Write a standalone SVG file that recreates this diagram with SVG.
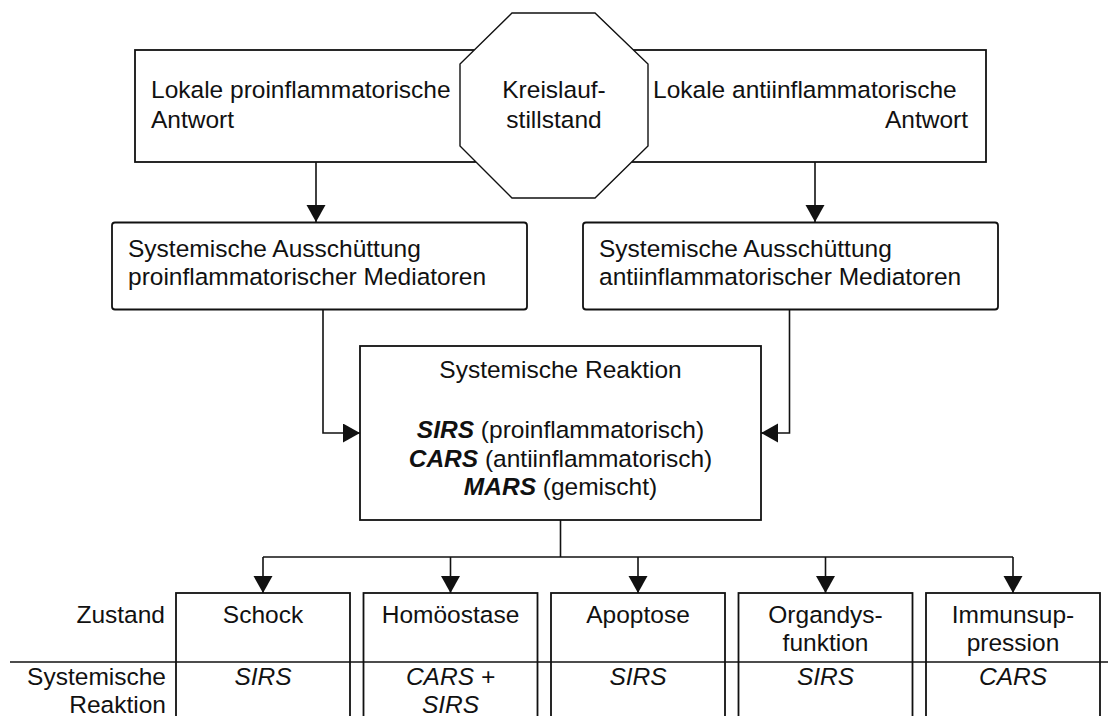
<svg xmlns="http://www.w3.org/2000/svg" width="1117" height="716" viewBox="0 0 1117 716">
<style>
text{font-family:"Liberation Sans",Arial,sans-serif;font-size:24.5px;fill:#111}
.c{text-anchor:middle}
.r{text-anchor:end}
.i{font-style:italic}
.b{font-weight:bold;font-style:italic}
.box{fill:#fff;stroke:#111;stroke-width:1.8}
.cell{fill:none;stroke:#111;stroke-width:1.8}
.oct{fill:#fff;stroke:#111;stroke-width:1.4}
.ln{fill:none;stroke:#111;stroke-width:1.6}
</style>
<defs>
<marker id="ah" markerUnits="userSpaceOnUse" markerWidth="18" markerHeight="20" refX="17" refY="9.5" orient="auto">
<path d="M0,0 L17,9.5 L0,19 Z" fill="#111"/>
</marker>
</defs>
<rect width="1117" height="716" fill="#fff"/>

<g id="local-pro">
<rect class="box" x="135" y="50" width="340" height="112"/>
<text x="151" y="98">Lokale proinflammatorische</text>
<text x="151" y="128">Antwort</text>
</g>
<g id="local-anti">
<rect class="box" x="630" y="50" width="356" height="112"/>
<text x="653" y="98">Lokale antiinflammatorische</text>
<text class="r" x="968" y="128">Antwort</text>
</g>
<g id="arrest">
<polygon class="oct" points="512,13 595,13 648,64 648,146 595,198 512,198 460,146 460,64"/>
<text class="c" x="554" y="98">Kreislauf-</text>
<text class="c" x="554" y="128">stillstand</text>
</g>

<g id="sys-pro">
<rect class="box" x="112" y="222.5" width="415" height="87" rx="3"/>
<text x="128" y="257">Systemische Ausschüttung</text>
<text x="128" y="285">proinflammatorischer Mediatoren</text>
</g>
<g id="sys-anti">
<rect class="box" x="583" y="222.5" width="415" height="87" rx="3"/>
<text x="599" y="257">Systemische Ausschüttung</text>
<text x="599" y="285">antiinflammatorischer Mediatoren</text>
</g>

<g id="reaction">
<rect class="box" x="360" y="346" width="401" height="174"/>
<text class="c" x="560.5" y="378">Systemische Reaktion</text>
<text class="c" x="560.5" y="438"><tspan class="b">SIRS</tspan> (proinflammatorisch)</text>
<text class="c" x="560.5" y="467"><tspan class="b">CARS</tspan> (antiinflammatorisch)</text>
<text class="c" x="560.5" y="495"><tspan class="b">MARS</tspan> (gemischt)</text>
</g>

<g id="schock">
<rect class="cell" x="176" y="593" width="174" height="140"/>
<text class="c" x="263" y="623">Schock</text>
<text class="c i" x="263" y="685">SIRS</text>
</g>
<g id="homoeostase">
<rect class="cell" x="363.5" y="593" width="174" height="140"/>
<text class="c" x="450.5" y="623">Homöostase</text>
<text class="c i" x="450.5" y="685">CARS +</text>
<text class="c i" x="450.5" y="713">SIRS</text>
</g>
<g id="apoptose">
<rect class="cell" x="551" y="593" width="174" height="140"/>
<text class="c" x="638" y="623">Apoptose</text>
<text class="c i" x="638" y="685">SIRS</text>
</g>
<g id="organdysfunktion">
<rect class="cell" x="738.5" y="593" width="174" height="140"/>
<text class="c" x="825.5" y="623">Organdys-</text>
<text class="c" x="825.5" y="651">funktion</text>
<text class="c i" x="825.5" y="685">SIRS</text>
</g>
<g id="immunsuppression">
<rect class="cell" x="926" y="593" width="174" height="140"/>
<text class="c" x="1013" y="623">Immunsup-</text>
<text class="c" x="1013" y="651">pression</text>
<text class="c i" x="1013" y="685">CARS</text>
</g>
<g id="table">
<line class="ln" x1="10" y1="662" x2="1108" y2="662"/>
<text class="r" x="165" y="623">Zustand</text>
<text class="r" x="166" y="685">Systemische</text>
<text class="r" x="166" y="713">Reaktion</text>
</g>

<g id="connectors">
<line class="ln" x1="316" y1="162" x2="316" y2="222" marker-end="url(#ah)"/>
<line class="ln" x1="815" y1="162" x2="815" y2="222" marker-end="url(#ah)"/>
<polyline class="ln" points="323,309.5 323,433 360,433" marker-end="url(#ah)"/>
<polyline class="ln" points="789.5,309.5 789.5,433 761,433" marker-end="url(#ah)"/>
<polyline class="ln" points="560.5,520 560.5,557"/>
<line class="ln" x1="263" y1="557" x2="1013" y2="557"/>
<line class="ln" x1="263" y1="557" x2="263" y2="593" marker-end="url(#ah)"/>
<line class="ln" x1="450.5" y1="557" x2="450.5" y2="593" marker-end="url(#ah)"/>
<line class="ln" x1="638" y1="557" x2="638" y2="593" marker-end="url(#ah)"/>
<line class="ln" x1="825.5" y1="557" x2="825.5" y2="593" marker-end="url(#ah)"/>
<line class="ln" x1="1013" y1="557" x2="1013" y2="593" marker-end="url(#ah)"/>
</g>
</svg>
